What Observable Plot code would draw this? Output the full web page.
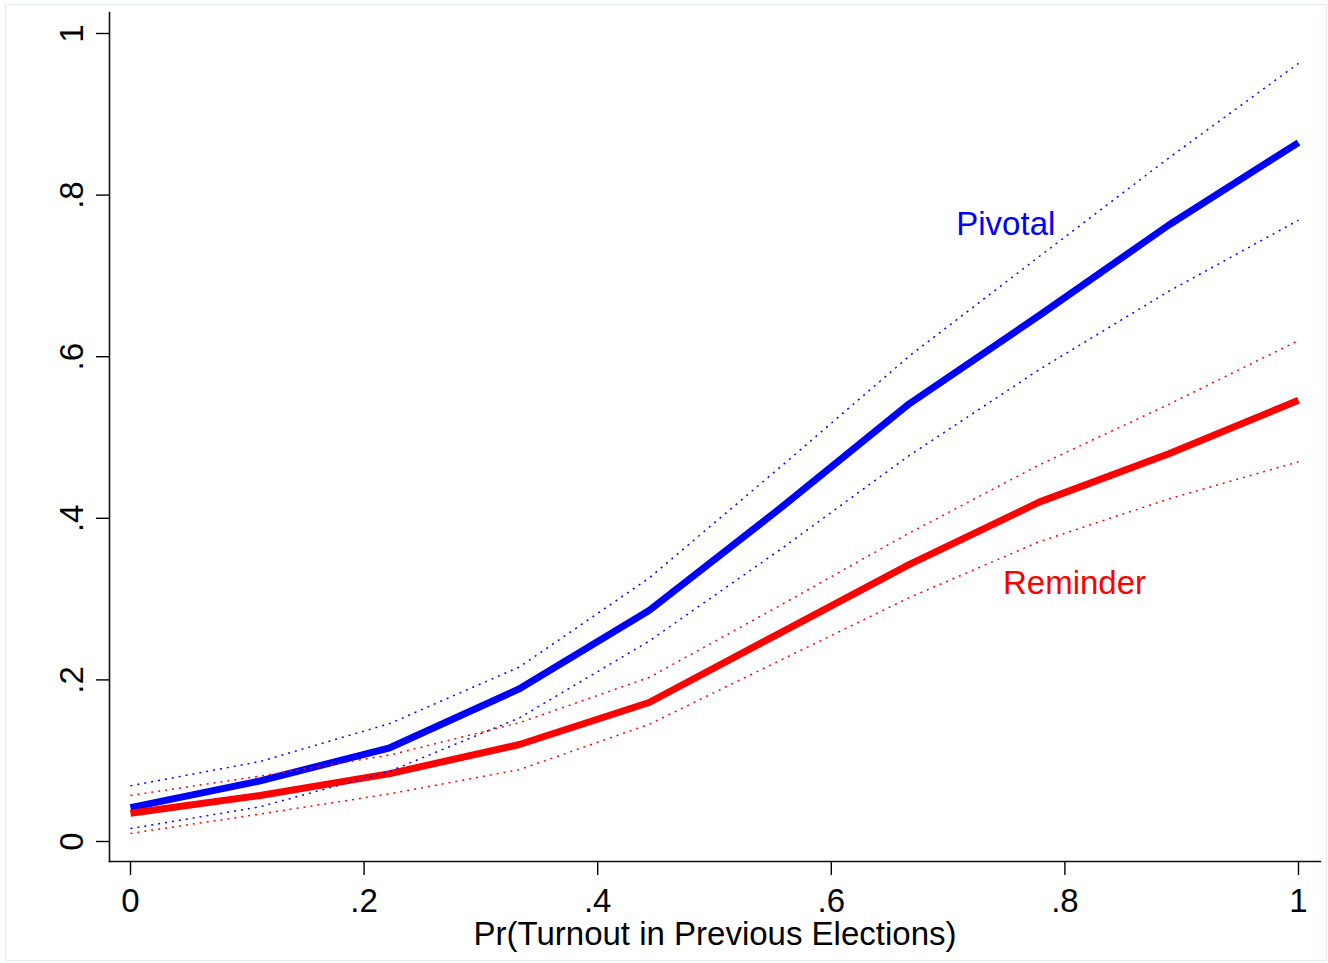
<!DOCTYPE html>
<html><head><meta charset="utf-8">
<script src="https://cdn.jsdelivr.net/npm/d3@7"></script>
<script src="https://cdn.jsdelivr.net/npm/@observablehq/plot@0.6"></script>
<style>
html,body{margin:0;padding:0;background:#fff;}
#chart{position:relative;width:1328px;height:963px;}
#border{position:absolute;left:5px;top:4px;width:1322px;height:957px;border:1px solid #e3edf0;box-sizing:border-box;pointer-events:none;}
</style></head><body><div id="chart"><div id="border"></div></div>
<script>
// Pr(Turnout in Previous Elections) grid
const turnout = [0, 0.111, 0.222, 0.333, 0.444, 0.556, 0.667, 0.778, 0.889, 1];
// Pivotal
const pivotal   = [0.042, 0.075, 0.116, 0.189, 0.286, 0.412, 0.542, 0.651, 0.763, 0.865];
const pivotalHi = [0.069, 0.099, 0.146, 0.216, 0.326, 0.463, 0.601, 0.724, 0.846, 0.963];
const pivotalLo = [0.016, 0.043, 0.087, 0.153, 0.248, 0.361, 0.478, 0.584, 0.681, 0.769];
// Reminder
const reminder   = [0.035, 0.057, 0.084, 0.120, 0.172, 0.258, 0.343, 0.420, 0.480, 0.546];
const reminderHi = [0.057, 0.081, 0.107, 0.147, 0.203, 0.292, 0.382, 0.466, 0.541, 0.620];
const reminderLo = [0.010, 0.034, 0.059, 0.089, 0.145, 0.224, 0.302, 0.371, 0.424, 0.470];
// Ticks
const xTicks = [0, 0.2, 0.4, 0.6, 0.8, 1];
const xTickLabels = ["0", ".2", ".4", ".6", ".8", "1"];
const yTicks = [0, 0.2, 0.4, 0.6, 0.8, 1];
const yTickLabels = ["0", ".2", ".4", ".6", ".8", "1"];
const xTitle = "Pr(Turnout in Previous Elections)";
// In-plot labels
const labelNames = ["Pivotal", "Reminder"];
const labelX = [0.707, 0.747];
const labelY = [0.764, 0.320];
const labelColors = ["#0000ff", "#ff0000"];

const toRows = (vals) => turnout.map((x, i) => ({x, y: vals[i]}));
const labels = labelNames.map((t, i) => ({text: t, x: labelX[i], y: labelY[i], color: labelColors[i]}));

const thick = {x: "x", y: "y", strokeWidth: 7, strokeLinecap: "butt", strokeLinejoin: "round"};
const dotted = {x: "x", y: "y", strokeWidth: 1.5, strokeDasharray: "2,5", strokeLinecap: "butt"};

const plot = Plot.plot({
  width: 1328, height: 963,
  marginLeft: 109, marginRight: 8, marginTop: 12, marginBottom: 102,
  x: {domain: [0, 1], insetLeft: 21, insetRight: 22},
  y: {domain: [0, 1], insetTop: 21, insetBottom: 20},
  style: {fontFamily: "'Liberation Sans', Arial, sans-serif", fontSize: "33px", background: "transparent", color: "black", overflow: "visible"},
  marks: [
    Plot.frame({anchor: "left", strokeWidth: 1.6, stroke: "#111"}),
    Plot.frame({anchor: "bottom", strokeWidth: 1.6, stroke: "#111"}),
    Plot.axisX({ticks: xTicks, tickFormat: d => xTickLabels[xTicks.indexOf(d)], tickSize: 14, tickPadding: 13,
      strokeWidth: 1.4, label: xTitle, labelAnchor: "center", labelArrow: "none", labelOffset: 83}),
    Plot.axisY({ticks: yTicks, tickFormat: d => yTickLabels[yTicks.indexOf(d)], tickSize: 13, tickRotate: -90,
      tickPadding: 14, strokeWidth: 1.4, label: null}),
    Plot.line(toRows(pivotal), {...thick, stroke: "#0000ff"}),
    Plot.line(toRows(reminder), {...thick, stroke: "#ff0000"}),
    Plot.line(toRows(pivotalHi), {...dotted, stroke: "#0000ff"}),
    Plot.line(toRows(pivotalLo), {...dotted, stroke: "#0000ff"}),
    Plot.line(toRows(reminderHi), {...dotted, stroke: "#ff0000"}),
    Plot.line(toRows(reminderLo), {...dotted, stroke: "#ff0000"}),
    Plot.text(labels, {x: "x", y: "y", text: "text", fill: "color", textAnchor: "start", fontSize: 33})
  ]
});
document.getElementById("chart").appendChild(plot);
plot.style.position = "absolute";
plot.style.left = "0";
plot.style.top = "0";
</script>
</body></html>
